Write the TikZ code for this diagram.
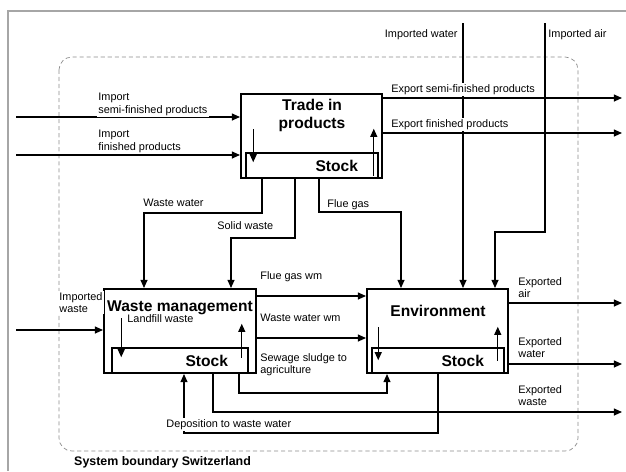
\documentclass[tikz,border=0pt]{standalone}
\usepackage{fontspec}
\setmainfont{Liberation Sans}
\usetikzlibrary{positioning, arrows.meta, calc}

\begin{document}
\begin{tikzpicture}[x=0.03cm, y=-0.03cm,
    flow/.style={-{Triangle[length=7pt,width=6pt]}, line width=1.1pt},
    process/.style={draw, line width=1.7pt, minimum height=2.52cm},
    stockbox/.style={draw, line width=1.3pt, minimum height=0.75cm, inner xsep=0.6cm,
        text width=#1, align=right, font=\fontsize{13.3}{15}\selectfont\bfseries},
    title/.style={font=\fontsize{13.3}{14.6}\selectfont\bfseries, align=center, inner sep=0pt},
    lbl/.style={font=\fontsize{9.3}{10.4}\selectfont, align=left, fill=white, inner sep=1pt}]

        \useasboundingbox (0,0) rectangle (626,471);

        % Frame and system boundary
        \draw[line width=1.2pt, black!35] (8,471) |- (626,11);
        \draw[black!45, line width=0.6pt, dash pattern=on 3.5pt off 2.5pt, rounded corners=11pt]
            (59,57) rectangle (578,451);
        \node[font=\fontsize{10.6}{12}\selectfont\bfseries, anchor=base west, inner sep=0pt] (sysname) at (74,465) {System boundary Switzerland};

        % Processes
        \node[process, minimum width=4.23cm] (trade) at (311.5,136) {};
        \node[stockbox=2.76cm] (tradestock) at (312,165.5) {Stock};
        \node[title] (tradetitle) at (312,115.5) {Trade in\\products};

        \node[process, minimum width=4.56cm] (wm) at (180,331) {};
        \node[stockbox=2.88cm] (wmstock) at (180,360.5) {Stock};
        \node[title, anchor=base] (wmtitle) at (180,311) {Waste management};

        \node[process, minimum width=4.23cm] (env) at (437.5,331) {};
        \node[stockbox=2.76cm] (envstock) at (438,360.5) {Stock};
        \node[title, anchor=base] (envtitle) at (438,316) {Environment};

        % Stock changes
        \draw[flow] ($(tradestock.north west)+(8,-23)$) -- ++(0,33);
        \draw[flow] ($(tradestock.south east)+(-5,-3)$) -- ++(0,-47);
        \draw[flow] ($(wmstock.north west)+(10,-29)$) -- ++(0,39);
        \draw[flow] ($(wmstock.south east)+(-7,-16)$) -- ++(0,-34);
        \draw[flow] ($(envstock.north west)+(7,-20)$) -- ++(0,33);
        \draw[flow] ($(envstock.south east)+(-7,-13)$) -- ++(0,-34);

        % Free ends and bends
        \coordinate (impsemi) at (16,117);
        \coordinate (impfin) at (16,155);
        \coordinate (expsemi) at (622,98);
        \coordinate (expfin) at (622,133);
        \coordinate (impwater) at (463,23);
        \coordinate (impair) at (545,23);
        \coordinate (airbend) at (495,232);
        \coordinate (flue1) at (319,212);
        \coordinate (flue2) at (401,212);
        \coordinate (ww1) at (262,213);
        \coordinate (ww2) at (144,213);
        \coordinate (sw1) at (295,238);
        \coordinate (sw2) at (231,238);
        \coordinate (impwaste) at (16,330);
        \coordinate (fgwm) at (300,296);
        \coordinate (wwwm) at (300,338);
        \coordinate (ss1) at (239,393);
        \coordinate (ss2) at (387,393);
        \coordinate (ew1) at (213,412);
        \coordinate (expwaste) at (622,412);
        \coordinate (dep1) at (438,433);
        \coordinate (dep2) at (184,433);
        \coordinate (expair) at (622,303);
        \coordinate (expwater) at (622,364);

        % Flows
        \draw[flow] (impsemi) -- (impsemi -| trade.west);
        \draw[flow] (impfin) -- (impfin -| trade.west);
        \draw[flow] (expsemi -| trade.east) -- (expsemi);
        \draw[flow] (expfin -| trade.east) -- (expfin);
        \draw[flow] (impwater) -- (impwater |- env.north);
        \draw[flow] (impair) |- (airbend) -- (airbend |- env.north);
        \draw[flow] (flue1 |- trade.south) -- (flue1) -- (flue2) -- (flue2 |- env.north);
        \draw[flow] (ww1 |- trade.south) -- (ww1) -- (ww2) -- (ww2 |- wm.north);
        \draw[flow] (sw1 |- trade.south) -- (sw1) -- (sw2) -- (sw2 |- wm.north);
        \draw[flow] (impwaste) -- (impwaste -| wm.west);
        \draw[flow] (fgwm -| wm.east) -- (fgwm -| env.west);
        \draw[flow] (wwwm -| wm.east) -- (wwwm -| env.west);
        \draw[flow] (ss1 |- wm.south) -- (ss1) -- (ss2) -- (ss2 |- env.south);
        \draw[flow] (ew1 |- wm.south) -- (ew1) -- (expwaste);
        \draw[flow] (dep1 |- env.south) -- (dep1) -- (dep2) -- (dep2 |- wm.south);
        \draw[flow] (expair -| env.east) -- (expair);
        \draw[flow] (expwater -| env.east) -- (expwater);

        % Flow labels
        \node[lbl, anchor=north west] (limpsemi) at (97,92) {Import\\semi-finished products};
        \node[lbl, anchor=north west] (limpfin) at (97,129) {Import\\finished products};
        \node[lbl, anchor=north east] (limpwater) at (459,28) {Imported water};
        \node[lbl, anchor=north west] (limpair) at (547,28) {Imported air};
        \node[lbl, anchor=north west] (lexpsemi) at (390,83) {Export semi-finished products};
        \node[lbl, anchor=north west] (lexpfin) at (390,118) {Export finished products};
        \node[lbl, anchor=north west] (lww) at (142,198) {Waste water};
        \node[lbl, anchor=north west] (lsw) at (216,220) {Solid waste};
        \node[lbl, anchor=north west] (lflue) at (326,198) {Flue gas};
        \node[lbl, anchor=north west] (limpwaste) at (58,291) {Imported\\waste};
        \node[lbl, anchor=north west] (llandfill) at (126,313) {Landfill waste};
        \node[lbl, anchor=north west] (lfgwm) at (259,270) {Flue gas wm};
        \node[lbl, anchor=north west] (lwwwm) at (259,313) {Waste water wm};
        \node[lbl, anchor=north west] (lsludge) at (259,352) {Sewage sludge to\\agriculture};
        \node[lbl, anchor=north west] (ldep) at (165,418) {Deposition to waste water};
        \node[lbl, anchor=north west] (lexpair) at (517,276) {Exported\\air};
        \node[lbl, anchor=north west] (lexpwater) at (517,336) {Exported\\water};
        \node[lbl, anchor=north west] (lexpwaste) at (517,384) {Exported\\waste};

    \end{tikzpicture}
\end{document}
